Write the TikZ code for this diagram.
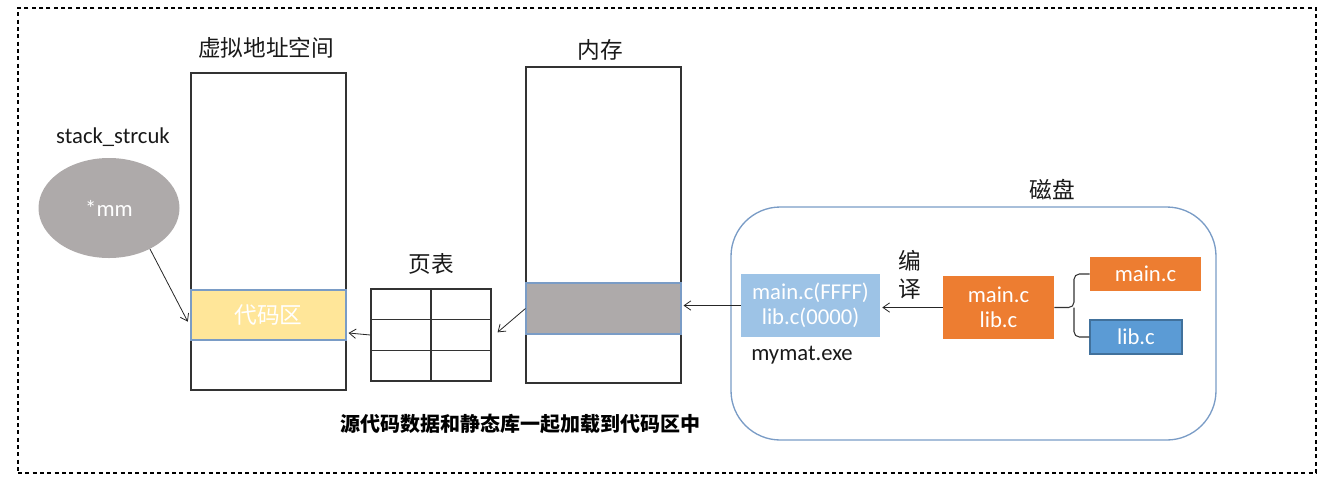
\documentclass[tikz,border=0pt]{standalone}
\usepackage{fontspec}
\setmainfont{Carlito}
\newfontfamily\cjk{Noto Sans CJK SC}
\usetikzlibrary{arrows.meta,shapes.geometric}
\definecolor{codey}{HTML}{FFE699}
\definecolor{grayf}{HTML}{AEAAAA}
\definecolor{lblue}{HTML}{9DC3E6}
\definecolor{orng}{HTML}{ED7D31}
\definecolor{mblue}{HTML}{5B9BD5}
\definecolor{dblue}{HTML}{41719C}
\definecolor{edgeb}{HTML}{7A9CC6}
\tikzset{
  box/.style={draw=black!80, line width=0.8pt, inner sep=0pt},
  fillbox/.style={inner sep=0pt, text=white, font=\fontsize{17}{20}\selectfont, align=center},
  title/.style={font=\cjk\fontsize{17}{20}\selectfont, text=black!90},
  lbl/.style={font=\fontsize{17}{20}\selectfont, text=black!90},
  arr/.style={-{Straight Barb[length=5pt,width=7pt]}, line width=0.6pt, draw=black!85},
}
\begin{document}
\begin{tikzpicture}[x=0.75pt,y=-0.75pt]
\useasboundingbox (0,0) rectangle (1329,487);
% frame
\node[draw=black, line width=0.8pt, dash pattern=on 3pt off 2.5pt, minimum width=973.5pt, minimum height=348.75pt, inner sep=0pt] (frame) at (667,240.5) {};
% virtual address space
\node[box, minimum width=116.25pt, minimum height=237.75pt] (va) at (268.5,231.5) {};
\node[title] (vat) at (266,48) {虚拟地址空间};
\node[fillbox, fill=codey, draw=edgeb, line width=0.8pt, minimum width=116.25pt, minimum height=37.5pt, font=\cjk\fontsize{17}{20}\selectfont] (code) at (268.5,315) {代码区};
% ellipse
\node[lbl] (st) at (113,137) {stack\_strcuk};
\node[ellipse, fill=grayf, minimum width=105.75pt, minimum height=75pt, inner sep=0pt, text=white, font=\fontsize{17}{20}\selectfont] (ell) at (109,208) {*mm};
% page table
\node[box, minimum width=90pt, minimum height=69pt] (tbl) at (431,335) {};
\node[title] (tblt) at (431,264) {页表};
\draw[black!80, line width=0.8pt] (tbl.north) -- (tbl.south);
\draw[black!80, line width=0.8pt] ([yshift=23pt]tbl.south west) -- ([yshift=23pt]tbl.south east);
\draw[black!80, line width=0.8pt] ([yshift=-23pt]tbl.north west) -- ([yshift=-23pt]tbl.north east);
% memory
\node[box, minimum width=116.25pt, minimum height=237pt] (mem) at (603.5,225) {};
\node[title] (memt) at (600,50) {内存};
\node[fill=grayf, draw=edgeb, line width=0.8pt, minimum width=116.25pt, minimum height=38.25pt, inner sep=0pt] (gray) at (603.5,308.5) {};
% disk
\node[draw=edgeb, line width=1pt, rounded corners=37pt, minimum width=363.75pt, minimum height=174.75pt, inner sep=0pt] (disk) at (973.5,323.5) {};
\node[title] (diskt) at (1052,190) {磁盘};
\node[fillbox, fill=lblue, minimum width=104.25pt, minimum height=47.25pt, font=\fontsize{17}{19}\selectfont] (exe) at (810.5,305.5) {main.c(FFFF)\\lib.c(0000)};
\node[lbl] (exet) at (802,355) {mymat.exe};
\node[fillbox, fill=orng, minimum width=83.25pt, minimum height=47.25pt, font=\fontsize{17}{19}\selectfont] (src) at (998.5,307.5) {main.c\\lib.c};
\node[title, align=center, font=\cjk\fontsize{17}{21}\selectfont] (comp) at (910,275) {编\\译};
\node[fillbox, fill=orng, minimum width=83.25pt, minimum height=25.5pt] (mainc) at (1145.5,274) {main.c};
\node[fillbox, fill=mblue, draw=dblue, line width=0.8pt, minimum width=69pt, minimum height=25.5pt] (libc) at (1136,337) {lib.c};
% brace
\draw[black!80, line width=0.8pt, rounded corners=4pt] (mainc.west) -| (1074,307.5) -- (src.east);
\draw[black!80, line width=0.8pt, rounded corners=4pt] (libc.west) -| (1074,307.5);
% arrows
\draw[arr] (src.west) -- ([xshift=1.5pt]exe.east |- src.west);
\draw[arr] (exe.west) -- ([xshift=1.5pt]mem.east |- exe.west);
\draw[arr] (gray.west) -- ([xshift=4.5pt,yshift=2pt]tbl.east);
\draw[arr] (tbl.west) -- ([xshift=1.5pt,yshift=1.5pt]code.east |- tbl.west);
\draw[arr] (ell.-45) -- ([xshift=-2pt,yshift=-5pt]code.west);
% caption
\node[font=\cjk\bfseries\fontsize{15}{18}\selectfont] (cap) at (520,424) {源代码数据和静态库一起加载到代码区中};
\end{tikzpicture}
\end{document}
